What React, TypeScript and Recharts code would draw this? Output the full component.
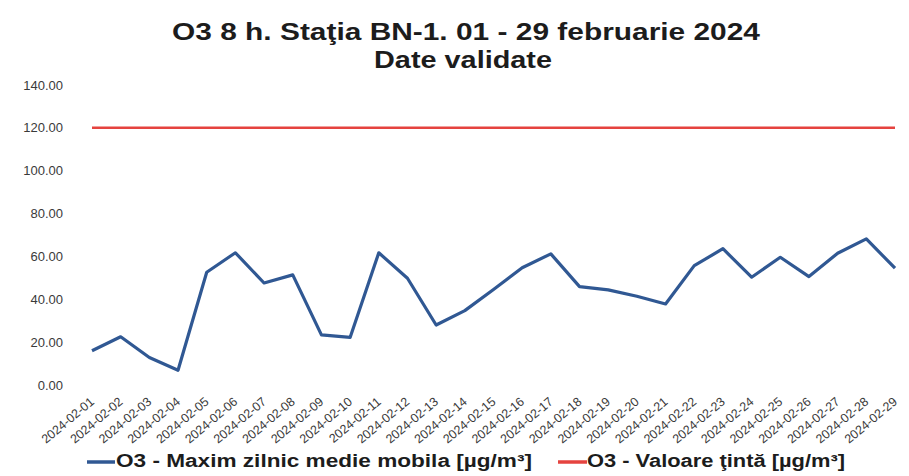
import { LineChart, Line, XAxis, YAxis } from "recharts";

const days = [
  "2024-02-01", "2024-02-02", "2024-02-03", "2024-02-04", "2024-02-05",
  "2024-02-06", "2024-02-07", "2024-02-08", "2024-02-09", "2024-02-10",
  "2024-02-11", "2024-02-12", "2024-02-13", "2024-02-14", "2024-02-15",
  "2024-02-16", "2024-02-17", "2024-02-18", "2024-02-19", "2024-02-20",
  "2024-02-21", "2024-02-22", "2024-02-23", "2024-02-24", "2024-02-25",
  "2024-02-26", "2024-02-27", "2024-02-28", "2024-02-29",
];

const o3Max = [
  16.0, 22.5, 12.8, 6.9, 52.6, 61.7, 47.6, 51.4, 23.4, 22.2,
  61.7, 49.8, 28.0, 34.7, 44.6, 54.7, 61.2, 45.9, 44.4, 41.4,
  37.8, 55.7, 63.6, 50.3, 59.6, 50.6, 61.5, 68.2, 54.5,
];

const o3Target = [
  120, 120, 120, 120, 120, 120, 120, 120, 120, 120,
  120, 120, 120, 120, 120, 120, 120, 120, 120, 120,
  120, 120, 120, 120, 120, 120, 120, 120, 120,
];

const yTicks = [0, 20, 40, 60, 80, 100, 120, 140];

const seriesNames = [
  "O3 - Maxim zilnic medie mobila [µg/m³]",
  "O3 - Valoare ţintă [µg/m³]",
];

const BLUE = "#305893";
const RED = "#e5433f";
const FONT = '"Liberation Sans", Arial, sans-serif';

const data = days.map((day, i) => ({
  day,
  max: o3Max[i],
  target: o3Target[i],
}));

// rotated date labels under the axis
function DayTick({ x, y, payload }: any) {
  const ax = x + 3;
  const ay = y + 18;
  return (
    <text
      x={ax}
      y={ay}
      transform={`rotate(-40 ${ax} ${ay})`}
      textAnchor="end"
      fontSize={12.5}
      fontFamily={FONT}
      fill="#3a3a3a"
    >
      {payload.value}
    </text>
  );
}

export default function App() {
  return (
    <div
      style={{
        position: "absolute",
        left: 0,
        top: 0,
        width: 909,
        height: 476,
        background: "#ffffff",
        fontFamily: FONT,
      }}
    >
      <LineChart
        width={909}
        height={476}
        data={data}
        margin={{ top: 85, right: 14, bottom: 0, left: 0 }}
      >
        <XAxis
          dataKey="day"
          height={91}
          axisLine={false}
          tickLine={false}
          tickSize={0}
          tickMargin={0}
          interval={0}
          tick={<DayTick />}
        />
        <YAxis
          width={92}
          domain={[0, 140]}
          ticks={yTicks}
          axisLine={false}
          tickLine={false}
          tickSize={0}
          tickMargin={29}
          tickFormatter={(v: number) => v.toFixed(2)}
          tick={{ fontSize: 13, fill: "#3a3a3a", fontFamily: FONT }}
        />
        <Line
          dataKey="target"
          name={seriesNames[1]}
          stroke={RED}
          strokeWidth={2.5}
          dot={false}
          isAnimationActive={false}
        />
        <Line
          dataKey="max"
          name={seriesNames[0]}
          stroke={BLUE}
          strokeWidth={3.2}
          dot={false}
          strokeLinejoin="round"
          isAnimationActive={false}
        />
      </LineChart>

      <svg
        width={909}
        height={476}
        style={{ position: "absolute", left: 0, top: 0, pointerEvents: "none" }}
      >
        <text
          x={466}
          y={40}
          textAnchor="middle"
          fontSize={23}
          fontWeight="bold"
          fontFamily={FONT}
          fill="#1c1c1c"
          textLength={588}
          lengthAdjust="spacingAndGlyphs"
        >
          O3 8 h. Staţia BN-1. 01 - 29 februarie 2024
        </text>
        <text
          x={463}
          y={68}
          textAnchor="middle"
          fontSize={23}
          fontWeight="bold"
          fontFamily={FONT}
          fill="#1c1c1c"
          textLength={178}
          lengthAdjust="spacingAndGlyphs"
        >
          Date validate
        </text>

        <line x1={87} y1={462} x2={115} y2={462} stroke={BLUE} strokeWidth={3.5} />
        <text
          x={116}
          y={467}
          fontSize={18}
          fontWeight="bold"
          fontFamily={FONT}
          fill="#1c1c1c"
          textLength={416}
          lengthAdjust="spacingAndGlyphs"
        >
          {seriesNames[0]}
        </text>
        <line x1={558} y1={462} x2={587} y2={462} stroke={RED} strokeWidth={3.5} />
        <text
          x={587}
          y={467}
          fontSize={18}
          fontWeight="bold"
          fontFamily={FONT}
          fill="#1c1c1c"
          textLength={258}
          lengthAdjust="spacingAndGlyphs"
        >
          {seriesNames[1]}
        </text>
      </svg>
    </div>
  );
}
